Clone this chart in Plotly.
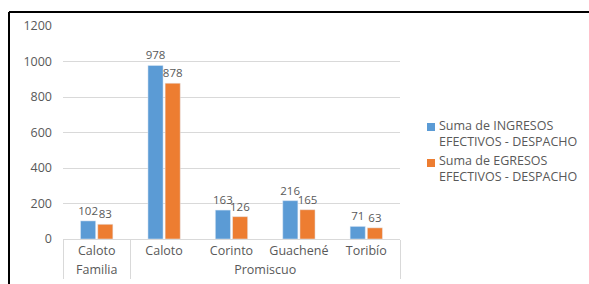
import plotly.graph_objects as go

groups = ["Familia", "Promiscuo", "Promiscuo", "Promiscuo", "Promiscuo"]
municipios = ["Caloto", "Caloto", "Corinto", "Guachené", "Toribío"]
ingresos = [102, 978, 163, 216, 71]
egresos = [83, 878, 126, 165, 63]
series_names = ["Suma de INGRESOS<br>EFECTIVOS - DESPACHO", "Suma de EGRESOS<br>EFECTIVOS - DESPACHO"]
colors = ["#5B9BD5", "#ED7D31"]
y_ticks = [0, 200, 400, 600, 800, 1000, 1200]

W, H = 589, 284
L, R, T, B = 63, 189, 26, 45
pw, ph = W - L - R, H - T - B

font = "Open Sans"
gray = "#595959"
fs = 12.5

fig = go.Figure()
for name, vals, col in zip(series_names, [ingresos, egresos], colors):
    fig.add_trace(go.Bar(x=[groups, municipios], y=vals, name=name,
                         marker_color=col, text=vals, textposition="outside",
                         constraintext="none", showlegend=False,
                         textfont=dict(color=gray, size=11.5), cliponaxis=False))

def px2x(px):
    return (px - L) / pw

def px2y(py):
    return (H - B - py) / ph

# frame lines
fig.add_shape(type="line", xref="paper", yref="paper", x0=px2x(9), x1=px2x(600),
              y0=px2y(12), y1=px2y(12), line=dict(color="black", width=2))
fig.add_shape(type="line", xref="paper", yref="paper", x0=px2x(9), x1=px2x(9),
              y0=px2y(12), y1=px2y(300), line=dict(color="black", width=2))

# legend
legend_y = [133, 169]
for name, col, cy in zip(series_names, colors, legend_y):
    fig.add_shape(type="rect", xref="paper", yref="paper",
                  x0=px2x(427), x1=px2x(435), y0=px2y(cy - 10), y1=px2y(cy - 2),
                  fillcolor=col, line=dict(width=0))
    fig.add_annotation(xref="paper", yref="paper", x=px2x(437), y=px2y(cy),
                       xanchor="left", yanchor="middle", align="left",
                       text=name, showarrow=False,
                       font=dict(size=fs, color=gray, family=font))

fig.update_layout(
    width=W, height=H,
    margin=dict(l=L, r=R, t=T, b=B),
    paper_bgcolor="white", plot_bgcolor="white",
    font=dict(family=font, color=gray, size=fs),
    barmode="group", bargap=0.49, bargroupgap=0.12,
    showlegend=False,
    xaxis=dict(type="multicategory", showline=True, linecolor="#d9d9d9", linewidth=1,
               showdividers=True, dividercolor="#d9d9d9", dividerwidth=1,
               tickfont=dict(size=fs, color=gray), automargin=False, tickangle=0,
               ticks="outside", ticklen=5, tickcolor="rgba(0,0,0,0)"),
    yaxis=dict(range=[0, 1200], tickvals=y_ticks, showgrid=True, gridcolor="#d9d9d9",
               zeroline=False, showline=False, tickfont=dict(size=fs, color=gray),
               ticklabelstandoff=10, automargin=False),
)

fig.write_html("out.html", config={"displayModeBar": False},
               post_script="document.body.style.margin='0';")
